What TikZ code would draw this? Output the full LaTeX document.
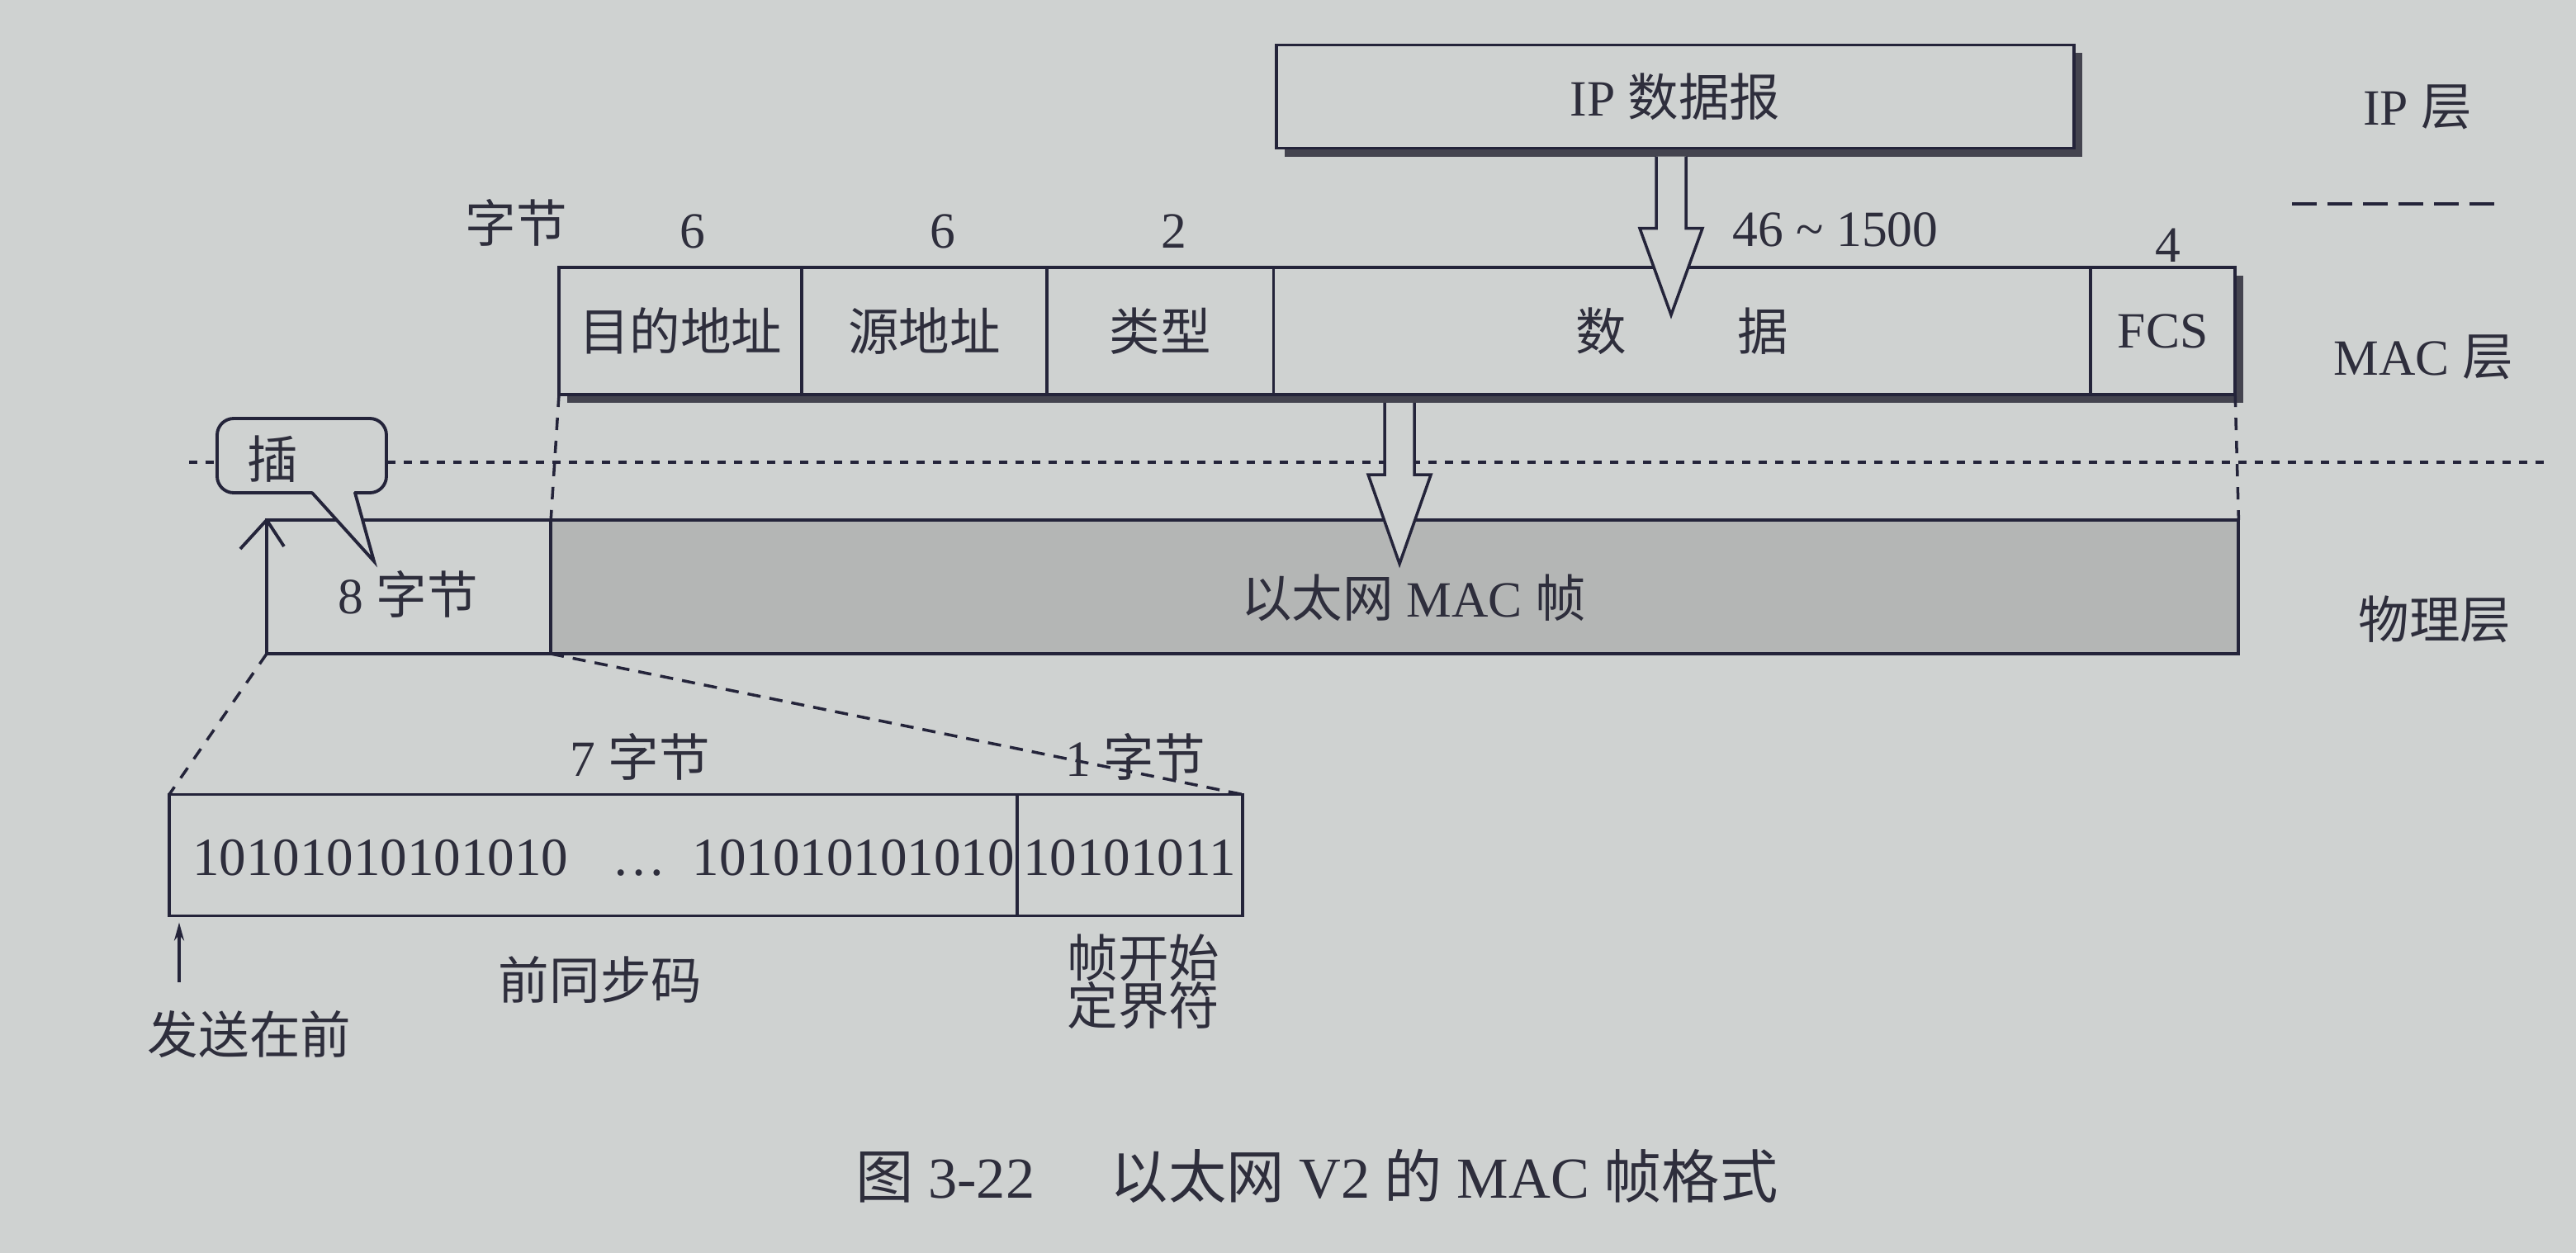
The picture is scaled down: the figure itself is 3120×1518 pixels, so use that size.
\documentclass[tikz,border=0pt]{standalone}
\usepackage{fontspec}
\setmainfont{Liberation Serif}
\newfontfamily\zhfont{Noto Sans CJK SC}
\usetikzlibrary{calc,shadows,arrows.meta}
\definecolor{paper}{HTML}{CFD2D1}
\definecolor{shadefill}{HTML}{B4B6B5}
\definecolor{ink}{HTML}{24243A}
\definecolor{inktext}{HTML}{2E2E3C}
\definecolor{boxshadow}{HTML}{44444F}
\newcommand\lblfont{\fontsize{17.5pt}{21pt}\selectfont}
\newcommand\bitfont{\fontsize{18.5pt}{22pt}\selectfont}
\newcommand\capfont{\fontsize{20pt}{24pt}\selectfont}

\begin{document}
\begin{tikzpicture}[x=0.01cm, y=-0.01cm,
  every node/.style={font=\lblfont, text=inktext, inner sep=0pt, outer sep=0pt},
  frame line/.style={draw=ink, line width=1.1pt},
  shadowed/.style={frame line, fill=paper,
    drop shadow={shadow xshift=0.1cm, shadow yshift=-0.1cm, fill=boxshadow, opacity=1}},
  field/.style={shadowed, minimum height=1.54cm, anchor=west},
  phys/.style={frame line, minimum height=1.62cm, anchor=west},
  hollow arrow/.style={draw=ink, line width=1pt, fill=paper, line join=miter},
  guide/.style={draw=ink, line width=1pt, dash pattern=on 0.15cm off 0.13cm},
  layer rule/.style={draw=ink, line width=1.1pt, dash pattern=on 0.1cm off 0.1cm},
  layer gap/.style={draw=ink, line width=1.1pt, dash pattern=on 0.3cm off 0.13cm},
]
\fill[paper] (0,0) rectangle (3120,1518);
\useasboundingbox (0,0) rectangle (3120,1518);

% ---------------- IP layer ----------------
\node[shadowed, minimum width=9.66cm, minimum height=1.25cm] (ipbox) at (2029,117) {IP {\zhfont 数据报}};
\node (iplayer) at (2928,130) {IP {\zhfont 层}};
\coordinate (gapL) at (2776,247);
\coordinate (gapR) at (3034,247);
\draw[layer gap] (gapL) -- (gapR);

% ---------------- field sizes ----------------
\node (bytes) at (625,270) {\zhfont 字节};
\node (n-dest) at (839,280) {6};
\node (n-src) at (1142,280) {6};
\node (n-type) at (1422,280) {2};
\node (n-data) at (2223,278) {46 \textasciitilde{} 1500};
\node (n-fcs) at (2626,297) {4};

% ---------------- MAC frame ----------------
\node[field, minimum width=2.94cm] (dest) at (677,401) {\zhfont 目的地址};
\node[field, minimum width=2.97cm] (src) at (dest.east) {\zhfont 源地址};
\node[field, minimum width=2.74cm] (type) at (src.east) {\zhfont 类型};
\node[field, minimum width=9.89cm] (data) at (type.east) {\zhfont 数\hspace{2.2em}据};
\node[field, minimum width=1.75cm] (fcs) at (data.east) {FCS};
\node (maclayer) at (2935,433) {MAC {\zhfont 层}};

% IP datagram goes into the data field
\draw[hollow arrow] ($(ipbox.south)+(-23,10)$) -- ++(0,87) -- ++(-20,0)
  -- ++(38,105) -- ++(38,-105) -- ++(-20,0) -- ++(0,-87);

% ---------------- layer separator ----------------
\coordinate (ruleL) at (229,560);
\coordinate (ruleR) at (3084,560);
\draw[layer rule] (ruleL) -- (ruleR);

% ---------------- physical layer ----------------
\node[phys, fill=paper, minimum width=3.44cm] (pre8) at (323,711) {};
\node[phys, fill=shadefill, minimum width=20.43cm] (macframe) at (pre8.east) {};
\node (pre8lbl) at (494,720) {8 {\zhfont 字节}};
\node (framelbl) at (1712,724) {{\zhfont 以太网} MAC {\zhfont 帧}};
\node (phylayer) at (2949,750) {\zhfont 物理层};
\draw[frame line] (pre8.north west) -- ++(-32,35) (pre8.north west) -- ++(21,32);

% speech bubble with its tail reaching into the 8-byte field
\fill[paper, rounded corners=0.2cm] (263,507) rectangle (468,597);
\fill[paper] (376,594) -- (453,680) -- (432,594) -- cycle;
\draw[frame line, rounded corners=0.2cm, line cap=round]
  (378,597) -- (263,597) -- (263,507) -- (468,507) -- (468,597) -- (430,597);
\draw[frame line, line join=miter, line cap=round] (430,597) -- (453,680) -- (378,597);
\node (insert) at (330,556) {\zhfont 插};

% MAC frame goes into the physical frame
\coordinate (macmid) at ($(dest.south west)!0.5!(fcs.south east)$);
\draw[hollow arrow] ($(macmid)+(-15,10)$) -- ++(0,87) -- ++(-20,0)
  -- ++(38,108) -- ++(38,-108) -- ++(-20,0) -- ++(0,-87);

\draw[guide] (dest.south west) -- (macframe.north west);
\draw[guide] (fcs.south east) -- (macframe.north east);

% ---------------- preamble detail ----------------
\node[frame line, minimum width=10.26cm, minimum height=1.47cm, anchor=west] (sync) at (205,1036) {};
\node[frame line, minimum width=2.73cm, minimum height=1.47cm, anchor=west] (sfd) at (sync.east) {};
\node[font=\bitfont, anchor=base west] (bitsA) at (233,1060) {10101010101010};
\node[font=\bitfont, anchor=base] (dots) at (774,1060) {…};
\node[font=\bitfont, anchor=base east] (bitsB) at (1229,1060) {101010101010};
\node[font=\bitfont, anchor=base] (bitsC) at (1368,1060) {10101011};

\draw[guide] (pre8.south west) -- (sync.north west);
\draw[guide, dash pattern=on 0.16cm off 0.11cm] (macframe.south west) -- (sfd.north east);

\node (seven) at (775,917) {7 {\zhfont 字节}};
\node (one) at (1375,917) {1 {\zhfont 字节}};
\node (syncname) at (727,1187) {\zhfont 前同步码};
\node (sfdname1) at (1385,1160) {\zhfont 帧开始};
\node (sfdname2) at (1385,1218) {\zhfont 定界符};

\node (sendfirst) at (302,1253) {\zhfont 发送在前};
\coordinate (sendfoot) at (217,1190);
\draw[draw=ink, line width=1pt, -{Stealth[length=0.22cm, width=0.12cm]}]
  (sendfoot) -- ($(sendfoot |- sync.south)+(0,8)$);

% ---------------- caption ----------------
\node[font=\capfont] (caption) at (1595,1425)
  {{\zhfont 图} 3-22\hspace{1.3em}{\zhfont 以太网} V2 {\zhfont 的} MAC {\zhfont 帧格式}};
\end{tikzpicture}
\end{document}
